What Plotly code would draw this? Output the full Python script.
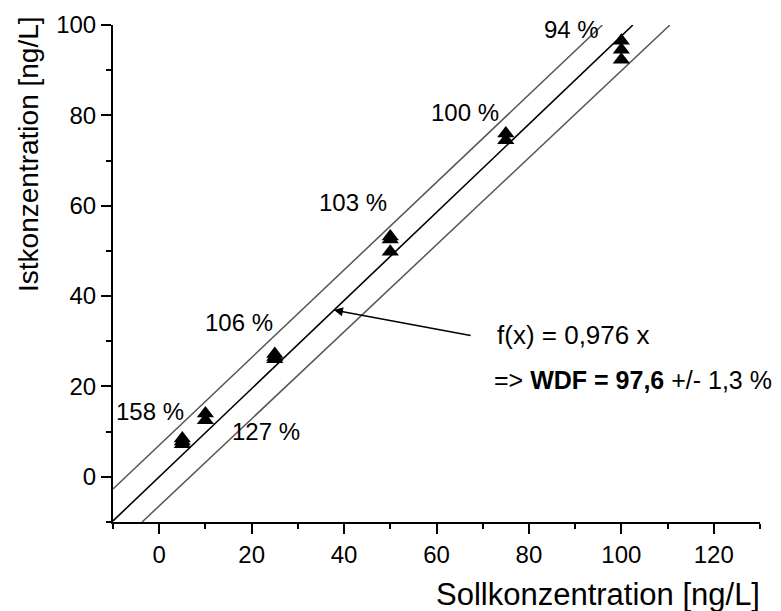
import plotly.graph_objects as go

# Measured points (Sollkonzentration vs Istkonzentration)
soll = [5, 5, 5, 10, 10, 25, 25, 25, 50, 50, 50, 75, 75, 100, 100, 100]
ist = [8.5, 7.8, 7.2, 14.0, 12.5, 27.2, 26.5, 26.0, 53.2, 52.5, 49.8, 76.0, 74.5, 96.5, 94.5, 92.3]

# Regression line f(x) = 0.976 x
fit_x = [-10, 102.5]
fit_y = [-9.76, 100.0]

# Confidence band lines
upper_x = [-10, 95.9]
upper_y = [-2.7, 100.0]
lower_x = [-3.7, 110.5]
lower_y = [-10.0, 100.0]

# Percentage labels
pct_text = ["94 %", "100 %", "103 %", "106 %", "158 %", "127 %"]
pct_x = [89.2, 66.2, 41.9, 17.3, -2.0, 23.1]
pct_y = [99.0, 80.7, 60.8, 34.2, 14.5, 10.1]

x_ticks = [0, 20, 40, 60, 80, 100, 120]
y_ticks = [0, 20, 40, 60, 80, 100]

FONT = "Liberation Sans, Arial, sans-serif"

fig = go.Figure()
fig.add_trace(go.Scatter(x=upper_x, y=upper_y, mode="lines",
                         line=dict(color="#555555", width=1.5), showlegend=False))
fig.add_trace(go.Scatter(x=lower_x, y=lower_y, mode="lines",
                         line=dict(color="#555555", width=1.5), showlegend=False))
fig.add_trace(go.Scatter(x=fit_x, y=fit_y, mode="lines",
                         line=dict(color="black", width=1.6), showlegend=False))
fig.add_trace(go.Scatter(x=soll, y=ist, mode="markers",
                         marker=dict(symbol="triangle-up", size=15, color="black"),
                         showlegend=False))

for t, x, y in zip(pct_text, pct_x, pct_y):
    fig.add_annotation(x=x, y=y, text=t, showarrow=False,
                       font=dict(family=FONT, size=24, color="black"))

# arrow pointing at the fit line
fig.add_annotation(x=37.8, y=36.9, ax=67.7, ay=31.2, xref="x", yref="y",
                   axref="x", ayref="y", text="", showarrow=True,
                   arrowhead=2, arrowsize=1.2, arrowwidth=1.5, arrowcolor="black")
fig.add_annotation(x=72.6, y=31.3, text="f(x) = 0,976 x", showarrow=False,
                   xanchor="left", font=dict(family=FONT, size=26, color="black"))
fig.add_annotation(x=72.1, y=21.5, text="=> <b>WDF = 97,6</b> +/- 1,3 %",
                   showarrow=False, xanchor="left",
                   font=dict(family=FONT, size=25, color="black"))

# axis titles
fig.add_annotation(xref="paper", yref="paper", x=1.003, y=-0.145,
                   text="Sollkonzentration [ng/L]", showarrow=False,
                   xanchor="right", yanchor="middle",
                   font=dict(family=FONT, size=31, color="black"))
fig.add_annotation(xref="paper", yref="paper", x=-0.131, y=0.741,
                   text="Istkonzentration [ng/L]", showarrow=False, textangle=-90,
                   xanchor="center", yanchor="middle",
                   font=dict(family=FONT, size=28, color="black"))

axis_common = dict(showgrid=False, zeroline=False, showline=True, linecolor="black",
                   linewidth=2, ticks="outside", ticklen=10, tickwidth=2,
                   tickcolor="black", tickfont=dict(family=FONT, size=24, color="black"),
                   minor=dict(ticks="outside", ticklen=5, tickwidth=2, tickcolor="black", dtick=10))

fig.update_xaxes(range=[-10, 130], tickvals=x_ticks, **axis_common)
fig.update_yaxes(range=[-10, 100], tickvals=y_ticks, **axis_common)

fig.update_layout(width=781, height=611, margin=dict(l=113, r=21, t=25, b=89),
                  plot_bgcolor="white", paper_bgcolor="white",
                  font=dict(family=FONT, size=24, color="black"))

fig.write_html("out.html")
